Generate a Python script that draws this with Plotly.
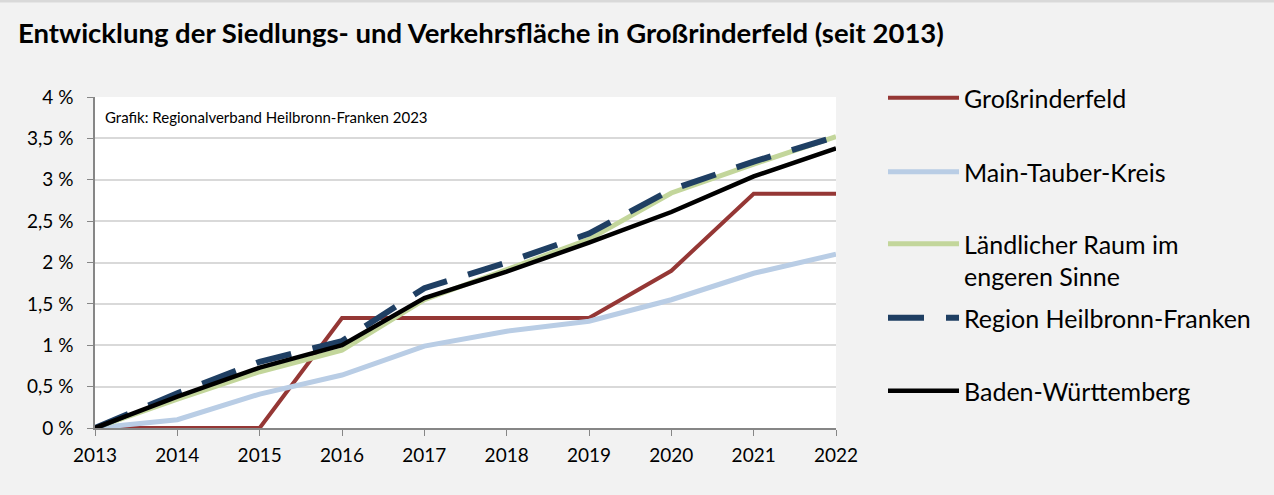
import plotly.graph_objects as go

years = [2013, 2014, 2015, 2016, 2017, 2018, 2019, 2020, 2021, 2022]

grossrinderfeld = [0.0, 0.0, 0.0, 1.33, 1.33, 1.33, 1.33, 1.90, 2.83, 2.83]
main_tauber = [0.0, 0.10, 0.41, 0.64, 0.99, 1.17, 1.29, 1.55, 1.87, 2.10]
laendlicher_raum = [0.0, 0.35, 0.68, 0.94, 1.55, 1.92, 2.28, 2.84, 3.19, 3.52]
region_hnf = [0.0, 0.42, 0.80, 1.05, 1.69, 2.00, 2.35, 2.88, 3.22, 3.52]
baden_wuerttemberg = [0.0, 0.38, 0.73, 1.00, 1.57, 1.89, 2.24, 2.61, 3.04, 3.38]

series_names = [
    "Großrinderfeld",
    "Main-Tauber-Kreis",
    "Ländlicher Raum im<br>engeren Sinne",
    "Region Heilbronn-Franken",
    "Baden-Württemberg",
]
y_ticks = [0, 0.5, 1, 1.5, 2, 2.5, 3, 3.5, 4]
y_tick_labels = ["0 %", "0,5 %", "1 %", "1,5 %", "2 %", "2,5 %", "3 %", "3,5 %", "4 %"]

FONT = "Lato"
W, H = 1274, 495
L, R, T, B = 95, 438, 97, 67

styles = [
    dict(color="#953735", width=4),
    dict(color="#b9cde5", width=5),
    dict(color="#c3d69b", width=5),
    dict(color="#1f3f63", width=6, dash="36px,22px"),
    dict(color="#000000", width=4.5),
]
values = [grossrinderfeld, main_tauber, laendlicher_raum, region_hnf, baden_wuerttemberg]
# vertical centre of each legend block (px from top)
legend_rows = [98, 172, 260, 318, 391]

fig = go.Figure()
for i, (name, vals, st) in enumerate(zip(series_names, values, styles)):
    lg = "legend" if i == 0 else f"legend{i + 1}"
    fig.add_trace(go.Scatter(x=years, y=vals, mode="lines", name=name,
                             line=st, legend=lg, hoverinfo="skip"))

plot_w = W - L - R
plot_h = H - T - B
layout_legends = {}
for i, row in enumerate(legend_rows):
    key = "legend" if i == 0 else f"legend{i + 1}"
    layout_legends[key] = dict(
        x=(883 - L) / plot_w, xanchor="left",
        y=(H - B - row) / plot_h, yanchor="middle",
        bgcolor="rgba(0,0,0,0)",
        font=dict(family=FONT, size=25, color="#000000"),
        itemwidth=71, valign="top", borderwidth=0,
    )

fig.update_layout(
    width=W, height=H,
    margin=dict(l=L, r=R, t=T, b=B),
    paper_bgcolor="#f2f2f2",
    plot_bgcolor="#ffffff",
    showlegend=True,
    title=dict(text="<b>Entwicklung der Siedlungs- und Verkehrsfläche in Großrinderfeld (seit 2013)</b>",
               x=18 / W, xanchor="left", y=1 - 33 / H, yanchor="middle",
               font=dict(family=FONT, size=27.5, color="#000000")),
    xaxis=dict(range=[2013, 2022], tickmode="array", tickvals=years,
               ticktext=[str(y) for y in years],
               showgrid=False, zeroline=False,
               showline=True, linecolor="#868686", linewidth=1.5,
               ticks="outside", ticklen=6, tickcolor="#868686", ticklabelstandoff=3,
               tickfont=dict(family=FONT, size=19, color="#000000")),
    yaxis=dict(range=[0, 4], tickmode="array", tickvals=y_ticks, ticktext=y_tick_labels,
               showgrid=True, gridcolor="#d9d9d9", gridwidth=1.5, zeroline=False,
               showline=True, linecolor="#868686", linewidth=1.5,
               ticks="outside", ticklen=6, tickcolor="#868686", ticklabelstandoff=10,
               tickfont=dict(family=FONT, size=19, color="#000000")),
    annotations=[dict(text="Grafik: Regionalverband Heilbronn-Franken 2023",
                      xref="paper", yref="paper", x=8 / plot_w, y=(H - B - 117) / plot_h,
                      xanchor="left", yanchor="middle", showarrow=False,
                      font=dict(family=FONT, size=15, color="#000000"))],
    shapes=[dict(type="line", xref="paper", yref="paper", x0=-L / plot_w, x1=(W - L) / plot_w,
                 y0=(H - B - 1) / plot_h, y1=(H - B - 1) / plot_h,
                 line=dict(color="#d9d9d9", width=3))],
    **layout_legends,
)

fig.write_html("out.html")
